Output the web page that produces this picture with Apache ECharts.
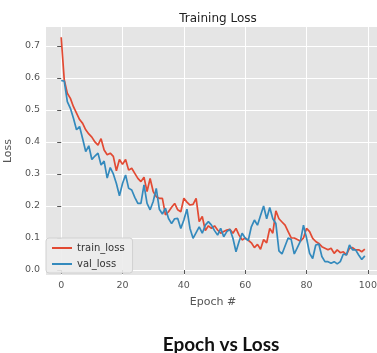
<!DOCTYPE html>
<html>
<head>
<meta charset="utf-8">
<script src="https://cdn.jsdelivr.net/npm/echarts@6/dist/echarts.min.js"></script>
<style>
html,body{margin:0;padding:0;background:#fff;}
#chart{width:377px;height:353px;}
</style>
</head>
<body>
<div id="chart"></div>
<script>
const trainLoss = [0.727,0.594,0.552,0.536,0.510,0.490,0.470,0.458,0.438,0.425,
0.415,0.400,0.390,0.410,0.375,0.360,0.365,0.355,0.310,0.345,
0.330,0.345,0.312,0.318,0.302,0.286,0.276,0.290,0.245,0.286,
0.245,0.229,0.224,0.224,0.172,0.182,0.196,0.208,0.188,0.182,
0.224,0.212,0.203,0.205,0.224,0.151,0.167,0.123,0.138,0.130,
0.138,0.125,0.115,0.120,0.125,0.127,0.115,0.130,0.109,0.094,
0.100,0.093,0.085,0.070,0.080,0.065,0.095,0.085,0.130,0.115,
0.185,0.160,0.150,0.140,0.120,0.100,0.100,0.095,0.090,0.100,
0.130,0.120,0.099,0.089,0.083,0.073,0.068,0.063,0.068,0.052,
0.063,0.054,0.057,0.047,0.068,0.070,0.063,0.063,0.057,0.065];
const valLoss = [0.592,0.590,0.526,0.505,0.474,0.438,0.448,0.410,0.370,0.388,
0.345,0.356,0.365,0.328,0.340,0.287,0.320,0.300,0.270,0.232,
0.270,0.297,0.255,0.250,0.227,0.208,0.208,0.266,0.208,0.188,
0.214,0.255,0.190,0.175,0.193,0.161,0.145,0.160,0.161,0.130,
0.156,0.190,0.130,0.099,0.117,0.135,0.115,0.140,0.151,0.140,
0.123,0.109,0.130,0.104,0.120,0.127,0.099,0.057,0.089,0.115,
0.099,0.092,0.135,0.156,0.140,0.170,0.200,0.160,0.195,0.160,
0.145,0.060,0.050,0.075,0.100,0.095,0.050,0.070,0.090,0.140,
0.100,0.052,0.036,0.078,0.081,0.042,0.026,0.026,0.021,0.026,
0.019,0.026,0.050,0.047,0.078,0.063,0.063,0.047,0.033,0.044];
const xTicks = [0,20,40,60,80,100];
const yTicks = [0.0,0.1,0.2,0.3,0.4,0.5,0.6,0.7];
const seriesNames = ['train_loss','val_loss'];

const toPairs = arr => arr.map((v,i)=>[i,v]);
const FONT = 'DejaVu Sans';
const chart = echarts.init(document.getElementById('chart'), null, {renderer:'canvas'});
chart.setOption({
  animation:false,
  backgroundColor:'#ffffff',
  title:[
    {text:'Training Loss', left:213, top:8, textAlign:'center',
     textStyle:{fontFamily:FONT,fontSize:12,fontWeight:'normal',color:'#222'}},
    {text:'Epoch vs Loss', left:216, top:330, textAlign:'center',
     textStyle:{fontFamily:'Lato',fontSize:19,fontWeight:'bold',color:'#111'}}
  ],
  grid:{left:46,right:-3,top:27,bottom:78,show:true,backgroundColor:'#E5E5E5',borderWidth:0,
        containLabel:false,outerBoundsMode:'none'},
  legend:{
    data:seriesNames, orient:'vertical', left:46, top:238,
    itemWidth:20, itemHeight:2, itemGap:6, icon:'rect',
    backgroundColor:'rgba(236,236,236,0.9)', borderColor:'#d0d0d0', borderWidth:1, borderRadius:3,
    padding:[5,8,4,6],
    textStyle:{fontFamily:FONT,fontSize:10,color:'#333'}
  },
  xAxis:{
    type:'value', min:-4.95, max:103.95,
    name:'Epoch #', nameLocation:'middle', nameGap:22,
    nameTextStyle:{fontFamily:FONT,fontSize:11,color:'#555'},
    axisLine:{show:false},
    axisTick:{show:true,length:4,lineStyle:{color:'#555'},customValues:xTicks},
    axisLabel:{customValues:xTicks,fontFamily:FONT,fontSize:9.5,color:'#555',margin:6},
    splitLine:{show:true,lineStyle:{color:'#ffffff',width:1}}
  },
  yAxis:{
    type:'value', min:-0.0156, max:0.759,
    name:'Loss', nameLocation:'middle', nameGap:27,
    nameTextStyle:{fontFamily:FONT,fontSize:11,color:'#555'},
    axisLine:{show:false},
    axisTick:{show:true,length:4,lineStyle:{color:'#555'},customValues:yTicks},
    axisLabel:{customValues:yTicks,fontFamily:FONT,fontSize:9.5,color:'#555',margin:6,
      formatter:v=>v.toFixed(1)},
    splitLine:{show:true,lineStyle:{color:'#ffffff',width:1}}
  },
  series:[
    {name:seriesNames[0], type:'line', data:toPairs(trainLoss), showSymbol:false, symbol:'none',
     lineStyle:{color:'#E24A33',width:1.7}, itemStyle:{color:'#E24A33'}, z:2},
    {name:seriesNames[1], type:'line', data:toPairs(valLoss), showSymbol:false, symbol:'none',
     lineStyle:{color:'#348ABD',width:1.7}, itemStyle:{color:'#348ABD'}, z:3}
  ]
});
</script>
</body>
</html>
